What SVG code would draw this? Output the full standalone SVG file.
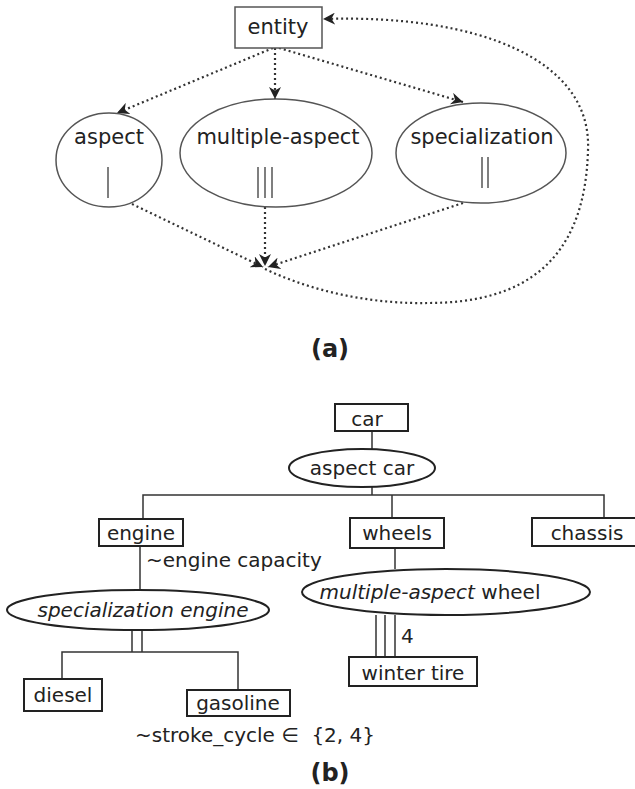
<svg xmlns="http://www.w3.org/2000/svg" width="635" height="789" viewBox="0 0 635 789">
<style>
text{font-family:"DejaVu Sans","Liberation Sans",sans-serif;fill:#222}
.a{font-size:21px}
.b{font-size:20px}
.lab{font-size:24px;font-weight:bold;text-anchor:middle}
.m{text-anchor:middle}
.na{fill:#fff;stroke:#555;stroke-width:1.5}
.nb{fill:#fff;stroke:#222;stroke-width:2}
.dot{fill:none;stroke:#333;stroke-width:2.2;stroke-dasharray:2 3;marker-end:url(#ah)}
.bar{stroke:#555;stroke-width:1.5}
.ln{fill:none;stroke:#333;stroke-width:1.5}
</style>
<defs>
<marker id="ah" viewBox="0 0 10 10" markerWidth="12" markerHeight="12" markerUnits="userSpaceOnUse" refX="10" refY="5" orient="auto">
<path d="M0,0 L10,5 L0,10 L3,5 z" fill="#222"/>
</marker>
</defs>
<rect width="635" height="789" fill="#fff"/>

<g id="connectors">
<path class="dot" d="M273,48 L117,113"/>
<path class="dot" d="M275,48 L275,99"/>
<path class="dot" d="M279,48 L463,102"/>
<path class="dot" d="M132,204 L263,267"/>
<path class="dot" d="M265,207 L265,266"/>
<path class="dot" d="M463,203 L268,267"/>
<path class="dot" d="M265,269 C320,295 380,304 428,303 C520,303 585,265 588,150 C592,60 480,14 323,19"/>

<path class="ln" d="M372,431 L372,449"/>
<path class="ln" d="M372,487 L372,495"/>
<path class="ln" d="M143,519 L143,495 L604,495 L604,518"/>
<path class="ln" d="M392,495 L392,518"/>
<path class="ln" d="M140,546 L140,591"/>
<path class="ln" d="M395,548 L395,569"/>
<path class="ln" d="M132,630 L132,652 M142,630 L142,652"/>
<path class="ln" d="M62,679 L62,652 L238,652 L238,690"/>
<path class="ln" d="M376,615 L376,657 M385,615 L385,657 M395,615 L395,657"/>
</g>

<g id="entity">
<rect class="na" x="235" y="7" width="87" height="41"/>
<text class="a m" x="278" y="34">entity</text>
</g>
<g id="aspect">
<ellipse class="na" cx="109" cy="160" rx="53" ry="47"/>
<text class="a m" x="109" y="144">aspect</text>
<line class="bar" x1="108" y1="167" x2="108" y2="198"/>
</g>
<g id="multiple-aspect">
<ellipse class="na" cx="276" cy="153" rx="96" ry="54"/>
<text class="a m" x="278" y="144">multiple-aspect</text>
<line class="bar" x1="258" y1="167" x2="258" y2="198"/>
<line class="bar" x1="265" y1="167" x2="265" y2="198"/>
<line class="bar" x1="272" y1="167" x2="272" y2="198"/>
</g>
<g id="specialization">
<ellipse class="na" cx="481" cy="153" rx="85" ry="50"/>
<text class="a m" x="482" y="144">specialization</text>
<line class="bar" x1="482" y1="157" x2="482" y2="188"/>
<line class="bar" x1="488" y1="157" x2="488" y2="188"/>
</g>
<text class="lab" x="330" y="357">(a)</text>

<g id="car">
<rect class="nb" x="335" y="404" width="73" height="27"/>
<text class="b m" x="367" y="426">car</text>
</g>
<g id="aspect-car">
<ellipse class="nb" cx="362" cy="468" rx="73" ry="19"/>
<text class="b m" x="362" y="475">aspect car</text>
</g>
<g id="engine">
<rect class="nb" x="99" y="519" width="84" height="27"/>
<text class="b m" x="141" y="540">engine</text>
</g>
<text class="b" x="146" y="567">~engine capacity</text>
<g id="wheels">
<rect class="nb" x="350" y="518" width="94" height="30"/>
<text class="b m" x="397" y="540">wheels</text>
</g>
<g id="chassis">
<rect class="nb" x="532" y="518" width="104" height="28"/>
<text class="b m" x="587" y="540">chassis</text>
</g>
<g id="specialization-engine">
<ellipse class="nb" cx="138" cy="610" rx="131" ry="20"/>
<text class="b m" x="143" y="617" font-style="italic">specialization engine</text>
</g>
<g id="multiple-aspect-wheel">
<ellipse class="nb" cx="446" cy="592" rx="144" ry="23"/>
<text class="b m" x="430" y="599"><tspan font-style="italic">multiple-aspect</tspan> wheel</text>
</g>
<text class="b" x="401" y="643">4</text>
<g id="winter-tire">
<rect class="nb" x="349" y="657" width="128" height="29"/>
<text class="b m" x="413" y="680">winter tire</text>
</g>
<g id="diesel">
<rect class="nb" x="24" y="679" width="78" height="32"/>
<text class="b m" x="63" y="702">diesel</text>
</g>
<g id="gasoline">
<rect class="nb" x="187" y="690" width="103" height="26"/>
<text class="b m" x="238" y="710">gasoline</text>
</g>
<text class="b" x="135" y="742">~stroke_cycle ∈&#160; {2, 4}</text>
<text class="lab" x="330" y="781">(b)</text>
</svg>
